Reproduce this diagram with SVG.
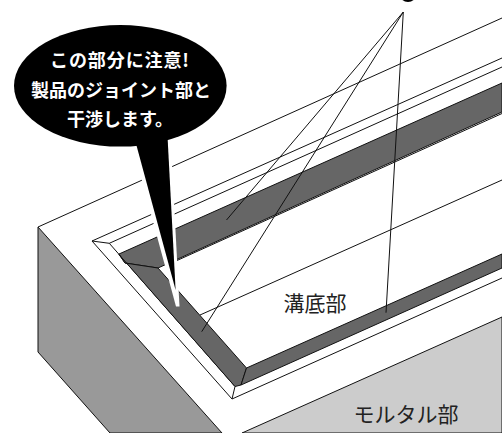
<svg xmlns="http://www.w3.org/2000/svg" width="502" height="433" viewBox="0 0 502 433">
<style>
.l{fill:none;stroke:#111;stroke-width:1}
.d{fill:#666;stroke:#111;stroke-width:1}
.t{font-family:"Noto Sans CJK JP","Liberation Sans",sans-serif;text-anchor:middle}
.w{fill:#fff;font-size:18px;font-weight:700}
.b{fill:#222;font-size:20px}
</style>
<rect width="502" height="433" fill="#fff"/>
<g id="block">
<path d="M38 227V352L110 433H222Z" fill="#999" stroke="#111"/>
<path d="M242 433L502 317V433Z" fill="#ccc" stroke="#111"/>
<path class="l" d="M38 227L502 18"/>
</g>
<g id="groove">
<path class="l" d="M502 58L92 241L232 399L502 278"/>
<path class="l" d="M92 241L109.3 243.3L235 386.5L232 399"/>
<path class="l" d="M109.3 243.3L502 67"/>
<path class="d" d="M119 254L502 83V112L158 268L125 263Z"/>
<path class="l" d="M177 260.5L502 113.5"/>
<path class="d" d="M119 254.5L235 386.5L241 385L246.5 368L158 268L125 263Z"/>
<path class="d" d="M246.5 368L502 254V268L241 385Z"/>
<path class="l" d="M200 315L502 180"/>
</g>
<g id="connectors">
<ellipse cx="408" cy="-5" rx="8" ry="7" fill="#000"/>
<path class="l" d="M386 312.7L403.3 12L201.7 331.7M403.3 12L226.5 220"/>
</g>
<g id="callout">
<path d="M132.3 145L176 306.5H179.5L171 145Z" fill="#fff"/>
<ellipse cx="120.3" cy="85.8" rx="106.3" ry="60.8" fill="#000"/>
<path d="M135 140L175.6 290L167.7 140Z" fill="#000"/>
<text class="t w" x="120" y="67" letter-spacing="0.9">この部分に注意!</text>
<text class="t w" x="121" y="97">製品のジョイント部と</text>
<text class="t w" x="120" y="126">干渉します。</text>
</g>
<g id="label-bottom"><text class="t b" x="315" y="311" font-size="21" style="font-size:21px">溝底部</text></g>
<g id="label-mortar"><text class="t b" x="406" y="422" style="font-size:21px">モルタル部</text></g>
</svg>
